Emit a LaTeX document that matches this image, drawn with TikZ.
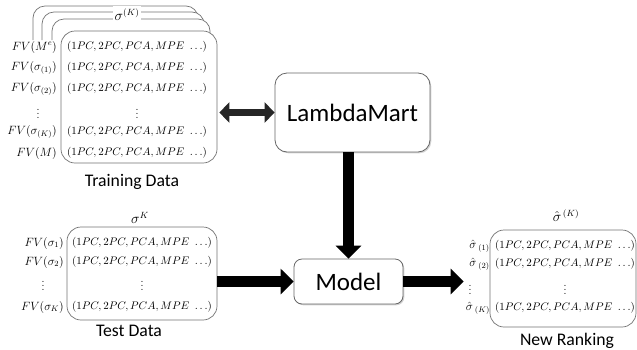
\documentclass[tikz,border=0pt]{standalone}
\usepackage{fontspec}
\setsansfont{Carlito}
\usetikzlibrary{arrows.meta,shadows}

\begin{document}
\begin{tikzpicture}[x=1pt,y=-1pt,
  databox/.style={draw=black!55, line width=0.7pt, fill=white, rounded corners=14pt, inner sep=0pt},
  stackedge/.style={draw=black!55, line width=0.7pt, fill=white, rounded corners=12pt},
  procbox/.style={draw=black!60, line width=0.8pt, fill=white, inner sep=0pt,
    drop shadow={shadow xshift=1.3pt, shadow yshift=-1.3pt, opacity=0.35},
    font=\sffamily\fontsize{25}{30}\selectfont},
  row/.style={font=\fontsize{10.6}{12}\selectfont, inner sep=0pt},
  rowlabel/.style={font=\fontsize{12}{14}\selectfont, anchor=east, inner sep=0pt},
  dots/.style={font=\fontsize{10.5}{12}\selectfont, inner sep=0pt},
  header/.style={font=\fontsize{13.5}{15}\selectfont, inner sep=0pt},
  caption/.style={font=\sffamily\fontsize{17.7}{20}\selectfont, inner sep=0pt},
  bigarrow/.style={line width=11pt, -{Triangle[width=25pt,length=13pt]}},
]
\useasboundingbox (0,0) rectangle (637,349);

% ---- stack of training sets (back layers) ----
\foreach \l/\t/\r in {33/6/198, 42/12/204, 52/19/210}
  \draw[stackedge] (\l,40) -- (\l,\t) -- (\r,\t) -- (\r,60);
\node[header, fill=white, inner xsep=2pt, inner ysep=3pt] (sigK) at (127,15) {$\sigma^{(K)}$};

% ---- front training set ----
\node[databox, minimum width=156pt, minimum height=132pt] (train) at (139,97) {};
\foreach \y/\lab in {47/{FV(M^e)}, 68/{FV(\sigma_{(1)})}, 89/{FV(\sigma_{(2)})}, 132/{FV(\sigma_{(K)})}, 153/{FV(M)}} {
  \node[rowlabel] at (57,\y) {$\lab$};
  \node[row] at (137,\y) {$(1PC, 2PC, PCA, MPE\ \ldots)$};
}
\node[dots] (trdotsl) at (38,111) {$\vdots$};
\node[dots] (trdotsr) at (137,111) {$\vdots$};
\node[caption] (trcap) at (132,182) {Training Data};

% ---- test set ----
\node[databox, minimum width=150pt, minimum height=93pt] (test) at (142,273.5) {};
\node[header] (sigKt) at (140,218) {$\sigma^{K}$};
\foreach \y/\lab in {243/{FV(\sigma_1)}, 262/{FV(\sigma_2)}, 307/{FV(\sigma_K)}} {
  \node[rowlabel] at (64,\y) {$\lab$};
  \node[row] at (142,\y) {$(1PC, 2PC, PCA, MPE\ \ldots)$};
}
\node[dots] (tedotsl) at (43,283) {$\vdots$};
\node[dots] (tedotsr) at (142,283) {$\vdots$};
\node[caption] (tecap) at (129,331) {Test Data};

% ---- resulting ranking ----
\node[databox, minimum width=146pt, minimum height=97pt] (rank) at (563,278.5) {};
\node[header] (sighat) at (566,216) {$\hat{\sigma}^{\,(K)}$};
\foreach \y/\lab in {246/{(1)}, 264/{(2)}, 308/{(K)}} {
  \node[rowlabel] at (490,\y) {$\hat{\sigma}_{\;\lab}$};
  \node[row] at (565,\y) {$(1PC, 2PC, PCA, MPE\ \ldots)$};
}
\node[dots] (nrdotsl) at (470,287) {$\vdots$};
\node[dots] (nrdotsr) at (565,287) {$\vdots$};
\node[caption] (nrcap) at (567,341) {New Ranking};

% ---- learner and model ----
\node[procbox, rounded corners=12pt, minimum width=155pt, minimum height=79pt] (lm) at (352.5,112.5) {LambdaMart};
\node[procbox, rounded corners=8pt, minimum width=109pt, minimum height=45pt] (model) at (348.5,281.5) {Model};

% ---- flow ----
\draw[line width=7pt, draw=black!85, {Triangle[width=20pt,length=10pt]}-{Triangle[width=20pt,length=10pt]}]
  ([xshift=2pt]train.east |- lm.west) -- (lm.west);
\draw[bigarrow] (model.north |- lm.south) -- (model.north);
\draw[bigarrow] (test.east |- model.west) -- (model.west);
\draw[bigarrow] (model.east) -- ([xshift=-26pt]rank.west |- model.east);
\end{tikzpicture}
\end{document}
